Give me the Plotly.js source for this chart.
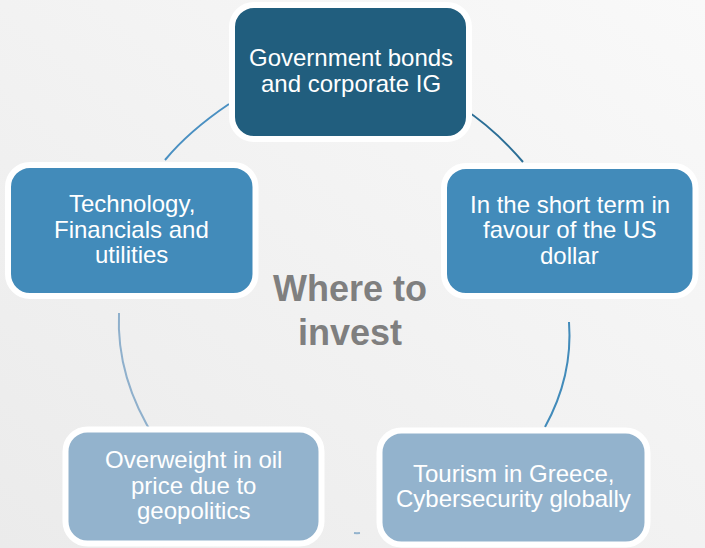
<!DOCTYPE html>
<html><head><meta charset="utf-8">
<script src="https://cdn.plot.ly/plotly-3.0.1.min.js"></script>
<style>html,body{margin:0;padding:0;background:#f1f1f1;}#chart{width:705px;height:548px;}</style>
</head><body><div id="chart"></div>
<script>
// ---- Content (cycle order, clockwise from top) ----
const nodeLabels = [
  "Government bonds<br>and corporate IG",
  "In the short term in<br>favour of the US<br>dollar",
  "Tourism in Greece,<br>Cybersecurity globally",
  "Overweight in oil<br>price due to<br>geopolitics",
  "Technology,<br>Financials and<br>utilities"
];
const centerTitle = "Where to<br>invest";

// ---- Layout / style (pixel-space geometry on hidden axes) ----
const W = 705, H = 548;
const boxGeom = [
  {x0:232, x1:469,   y0:5,     y1:139,   fill:"#215E7E"},
  {x0:444, x1:695.5, y0:166,   y1:296,   fill:"#428BBA"},
  {x0:379.5,x1:647.5,y0:430.5, y1:544.5, fill:"#93B3CD"},
  {x0:65.5, x1:321.5,y0:429.5, y1:543.5, fill:"#93B3CD"},
  {x0:8,   x1:255.5, y0:165,   y1:296,   fill:"#428BBA"}
];
// connectors: start, control, end (quadratic), colour
const connGeom = [
  {p0:[229,104], c:[189,131], p1:[165,160], color:"#4A90C2"},
  {p0:[461,107], c:[494,128], p1:[523,162], color:"#2B6E96"},
  {p0:[569,322], c:[573,376], p1:[545,427], color:"#428BBA"},
  {p0:[354,533], c:[357,533.3], p1:[360,533], color:"#93B3CD"},
  {p0:[156,440], c:[116,378], p1:[119,313], color:"#8FB0CC"}
];
const lineGap = 25.5;
const bodyFont = {family:"Liberation Sans, Arial, sans-serif", size:24, color:"#FFFFFF"};
const titleCenter = {x:350, y:310, gap:44};

function rrect(x0,y0,x1,y1,r){
  const k = 0.5523*r;
  return `M${x0+r},${y0} L${x1-r},${y0} C${x1-r+k},${y0} ${x1},${y0+r-k} ${x1},${y0+r}` +
         ` L${x1},${y1-r} C${x1},${y1-r+k} ${x1-r+k},${y1} ${x1-r},${y1}` +
         ` L${x0+r},${y1} C${x0+r-k},${y1} ${x0},${y1-r+k} ${x0},${y1-r}` +
         ` L${x0},${y0+r} C${x0},${y0+r-k} ${x0+r-k},${y0} ${x0+r},${y0} Z`;
}

const shapes = [];
connGeom.forEach(s => {
  shapes.push({type:"path", xref:"x", yref:"y",
    path:`M${s.p0[0]},${s.p0[1]} Q${s.c[0]},${s.c[1]} ${s.p1[0]},${s.p1[1]}`,
    line:{color:s.color, width:2}, fillcolor:"rgba(0,0,0,0)"});
});
boxGeom.forEach(b => {
  shapes.push({type:"path", xref:"x", yref:"y", path:rrect(b.x0,b.y0,b.x1,b.y1,22),
    fillcolor:b.fill, line:{color:"#FFFFFF", width:6}});
});

const annotations = [];
nodeLabels.forEach((lab, i) => {
  const b = boxGeom[i];
  const cx = (b.x0+b.x1)/2, cy = (b.y0+b.y1)/2 - 1.5;
  const lines = lab.split("<br>");
  lines.forEach((ln, j) => {
    annotations.push({x:cx, y:cy + (j-(lines.length-1)/2)*lineGap, xref:"x", yref:"y",
      text:ln, showarrow:false, xanchor:"center", yanchor:"middle", font:bodyFont});
  });
});
const tLines = centerTitle.split("<br>");
tLines.forEach((ln, j) => {
  annotations.push({x:titleCenter.x, y:titleCenter.y + (j-(tLines.length-1)/2)*titleCenter.gap,
    xref:"x", yref:"y", text:ln, showarrow:false, xanchor:"center", yanchor:"middle",
    font:{family:"Liberation Sans, Arial, sans-serif", size:36, color:"#7F7F7F", weight:"bold"}});
});

const bgSvg = `<svg xmlns='http://www.w3.org/2000/svg' width='705' height='548'><defs><linearGradient id='g' x1='0' y1='1' x2='1' y2='0'><stop offset='0' stop-color='#EBEBEB'/><stop offset='1' stop-color='#F9F9F9'/></linearGradient></defs><rect width='705' height='548' fill='url(#g)'/></svg>`;

const layout = {
  width:W, height:H, margin:{l:0,r:0,t:0,b:0},
  paper_bgcolor:"#F1F1F1", plot_bgcolor:"rgba(0,0,0,0)",
  xaxis:{range:[0,W], visible:false, fixedrange:true},
  yaxis:{range:[H,0], visible:false, fixedrange:true},
  showlegend:false, shapes:shapes, annotations:annotations,
  images:[{source:"data:image/svg+xml;charset=utf-8,"+encodeURIComponent(bgSvg),
    xref:"paper", yref:"paper", x:0, y:1, sizex:1, sizey:1, sizing:"stretch",
    xanchor:"left", yanchor:"top", layer:"below"}]
};
Plotly.newPlot("chart", [{type:"scatter", x:[], y:[], hoverinfo:"skip"}], layout,
  {staticPlot:true, displayModeBar:false});
</script></body></html>
